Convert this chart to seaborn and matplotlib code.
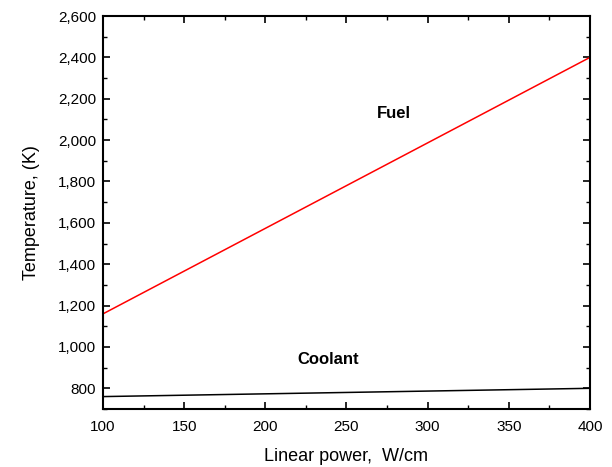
import matplotlib
matplotlib.use("Agg")
import matplotlib.pyplot as plt
import seaborn as sns
import pandas as pd
from matplotlib.ticker import MultipleLocator, FuncFormatter

sns.set_theme(style="ticks")
plt.rcParams['font.family'] = ['Liberation Sans', 'DejaVu Sans']
plt.rcParams['text.color'] = 'black'
plt.rcParams['axes.labelcolor'] = 'black'

linear_power = [100, 400]
fuel_temp = [1160, 2400]
coolant_temp = [760, 800]

df = pd.DataFrame({
    "power": linear_power * 2,
    "temp": fuel_temp + coolant_temp,
    "series": ["Fuel"] * 2 + ["Coolant"] * 2,
})

fig = plt.figure(figsize=(6.12, 4.67), dpi=100)
ax = fig.add_axes([103/612, 1 - 409/467, (590-103)/612, (409-16)/467])

sns.lineplot(data=df, x="power", y="temp", hue="series",
             palette={"Fuel": "#ff0000", "Coolant": "#000000"},
             linewidth=1.1, legend=False, ax=ax)

ax.set_xlim(100, 400)
ax.set_ylim(700, 2600)
ax.xaxis.set_major_locator(MultipleLocator(50))
ax.xaxis.set_minor_locator(MultipleLocator(25))
ax.yaxis.set_major_locator(MultipleLocator(200))
ax.yaxis.set_minor_locator(MultipleLocator(100))
ax.yaxis.set_major_formatter(FuncFormatter(lambda v, p: f"{int(v):,}"))

ax.tick_params(which="both", direction="in", top=True, right=True, labelsize=11,
               colors="black", labelcolor="black")
ax.tick_params(which="major", length=5, width=1.2)
ax.tick_params(axis="x", which="major", pad=8)
ax.tick_params(axis="y", which="major", pad=5)
ax.tick_params(which="minor", length=3, width=1.0)
for s in ax.spines.values():
    s.set_linewidth(1.5)
    s.set_color("black")

ax.set_xlabel("Linear power,  W/cm", fontsize=13, labelpad=10, color="black")
ax.set_ylabel("Temperature, (K)", fontsize=13, labelpad=13, color="black")

ax.text(279, 2130, "Fuel", fontsize=12, fontweight="bold", ha="center", va="center", color="black")
ax.text(239, 940, "Coolant", fontsize=12, fontweight="bold", ha="center", va="center", color="black")

fig.savefig("out.png", dpi=100)
